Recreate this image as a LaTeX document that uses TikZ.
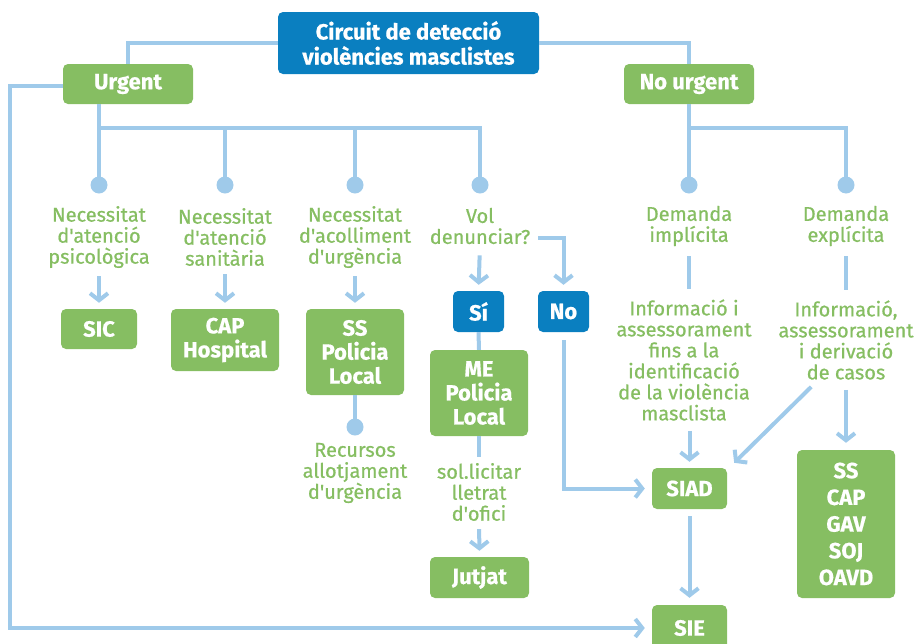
\documentclass[tikz,border=0pt]{standalone}
\usepackage{fontspec}
\setmainfont{Fira Sans}[Ligatures=TeXOff, BoldFeatures={FakeBold=0.6}]
\newfontfamily\lblfont{Fira Sans}[Ligatures=TeXOff, FakeBold=0.7]
\usetikzlibrary{arrows.meta}
\definecolor{cblue}{HTML}{0A7FC0}
\definecolor{cgreen}{HTML}{86BE62}
\definecolor{cline}{HTML}{9FCAEA}
\begin{document}
\begin{tikzpicture}[x=1pt,y=-1pt,
 box/.style={fill=cgreen, rounded corners=5pt, text=white, font=\bfseries\fontsize{22}{24}\selectfont, align=center, inner sep=0pt},
 bbox/.style={box, fill=cblue},
 lbl/.style={text=cgreen, font=\lblfont\fontsize{20}{21}\selectfont, align=center, inner sep=0pt},
 ln/.style={draw=cline, line width=4pt},
 arr/.style={ln, -{Straight Barb[length=7pt,width=18pt]}},
 dot/.style={circle, fill=cline, minimum size=17pt, inner sep=0pt}
]
\useasboundingbox (0,0) rectangle (918,643);

% boxes
\node[bbox, minimum width=261pt, minimum height=62pt, font=\bfseries\fontsize{22}{25}\selectfont] (title) at (408.5,43) {Circuit de detecció\\violències masclistes};
\node[box, minimum width=130pt, minimum height=40pt] (urg) at (128,84) {Urgent};
\node[box, minimum width=130pt, minimum height=40pt] (nurg) at (689,84) {No urgent};
\node[box, minimum width=76pt, minimum height=40pt] (sic) at (99,329) {SIC};
\node[box, minimum width=108pt, minimum height=62pt] (cap) at (225,340) {CAP\\Hospital};
\node[box, minimum width=98pt, minimum height=86pt] (ss) at (355,352) {SS\\Policia\\Local};
\node[bbox, minimum width=51pt, minimum height=41pt] (si) at (478.5,311.5) {Sí};
\node[bbox, minimum width=51pt, minimum height=41pt] (no) at (563.5,311.5) {No};
\node[box, minimum width=98pt, minimum height=86pt] (me) at (479,393) {ME\\Policia\\Local};
\node[box, minimum width=99pt, minimum height=41pt] (jut) at (479.5,577.5) {Jutjat};
\node[box, minimum width=75pt, minimum height=41pt] (siad) at (689.5,488.5) {SIAD};
\node[box, minimum width=75pt, minimum height=46pt] (sie) at (689.5,628) {SIE};
\node[box, minimum width=98pt, minimum height=148pt, font=\bfseries\fontsize{22}{26.7}\selectfont] (serv) at (846,524) {SS\\CAP\\GAV\\SOJ\\OAVD};

% labels
\node[lbl] (l1) at (99,237) {Necessitat\\d'atenció\\psicològica};
\node[lbl] (l2) at (225,237) {Necessitat\\d'atenció\\sanitària};
\node[lbl] (l3) at (355,237) {Necessitat\\d'acolliment\\d'urgència};
\node[lbl] (l4) at (480,226) {Vol\\denunciar?};
\node[lbl] (l5) at (689,226) {Demanda\\implícita};
\node[lbl] (l6) at (846,226) {Demanda\\explícita};
\node[lbl] (l7) at (684,360) {Informació i\\assessorament\\fins a la\\identificació\\de la violència\\masclista};
\node[lbl] (l8) at (846,340) {Informació,\\assessorament\\i derivació\\de casos};
\node[lbl] (rec) at (355,473) {Recursos\\allotjament\\d'urgència};
\node[lbl] (sol) at (479,492) {sol.licitar\\lletrat\\d'ofici};

% dot positions
\coordinate (c1) at (99,185);
\coordinate (c2) at (225,185);
\coordinate (c3) at (355,185);
\coordinate (c4) at (480,185);
\coordinate (c5) at (689,185);
\coordinate (c6) at (846,185);
\coordinate (c7) at (355,427);
\coordinate (bar) at (0,128);
\coordinate (lc) at (10,86);

% connectors
\draw[ln] (title.west) -| (urg.north);
\draw[ln] (title.east) -| (nurg.north);
\draw[arr, shorten >=7pt] (urg.west |- lc) -- (lc) |- (sie.west);
\draw[ln] (urg.south -| c1) -- (c1);
\draw[ln] (c1 |- bar) -| (c4);
\draw[ln] (c2 |- bar) -- (c2);
\draw[ln] (c3 |- bar) -- (c3);
\draw[ln] (nurg.south) -- (c5);
\draw[ln] (c5 |- bar) -| (c6);

\draw[arr, shorten <=8pt, shorten >=6pt] (l1.south) -- (sic.north);
\draw[arr, shorten <=8pt, shorten >=6pt] (l2.south) -- (cap.north);
\draw[arr, shorten <=8pt, shorten >=6pt] (l3.south) -- (ss.north);
\draw[ln] (ss.south) -- (c7);
\draw[arr, shorten <=11pt, shorten >=6pt] (l4.south) -- (si.north);
\draw[arr, shorten >=6pt] ([xshift=8pt,yshift=-12pt]l4.east) -| (no.north);
\draw[ln] (si.south) -- (me.north);
\draw[ln, shorten >=6pt] (me.south) -- (sol.north);
\draw[arr, shorten <=8pt, shorten >=6pt] (sol.south) -- (jut.north);
\draw[arr, shorten <=8pt, shorten >=7pt] (no.south) |- (siad.west);
\draw[ln, shorten <=10pt, shorten >=10pt] (l5.south) -- (l5.south |- l7.north);
\draw[arr, shorten <=10pt, shorten >=6pt] (l7.south -| siad.north) -- (siad.north);
\draw[ln, shorten <=10pt, shorten >=10pt] (l6.south) -- (l8.north);
\draw[arr, shorten <=10pt, shorten >=7pt] (l8.south) -- (serv.north);
\draw[arr] ([xshift=33pt,yshift=-7pt]l8.south west) -- ([xshift=7pt,yshift=5pt]siad.north east);
\draw[arr, shorten <=7pt, shorten >=7pt] (siad.south) -- (sie.north);

% dots
\foreach \c in {c1,c2,c3,c4,c5,c6,c7} \node[dot] (dot\c) at (\c) {};
\end{tikzpicture}
\end{document}
